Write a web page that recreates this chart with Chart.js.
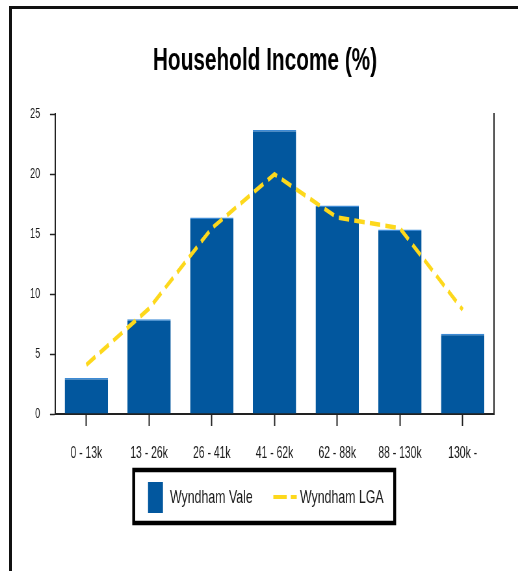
<!DOCTYPE html>
<html>
<head>
<meta charset="utf-8">
<script src="https://cdn.jsdelivr.net/npm/chart.js@4.4.1/dist/chart.umd.min.js"></script>
<style>
  html, body { margin: 0; padding: 0; background: #fff; overflow: hidden; }
  #frame { position: absolute; left: 9px; top: 6px; width: 520px; height: 580px;
           border-left: 3px solid #111; border-top: 3px solid #111; }
  /* the source picture is squashed horizontally, so draw wide and scale down */
  #wrap { position: absolute; left: 0; top: 0; width: 797px; height: 571px;
          transform: scaleX(0.65); transform-origin: 0 0; }
</style>
</head>
<body>
<div id="frame"></div>
<div id="wrap">
  <canvas id="chart" width="797" height="571" style="width:797px;height:571px"></canvas>
</div>
<script>
const categories = ['0 - 13k', '13 - 26k', '26 - 41k', '41 - 62k', '62 - 88k', '88 - 130k', '130k -'];
const wyndhamVale = [3.0, 7.9, 16.4, 23.7, 17.4, 15.4, 6.7];
const wyndhamLga = [4.1, 8.8, 15.5, 20.0, 16.4, 15.5, 8.7];
const yTicks = [0, 5, 10, 15, 20, 25];

const FONT = "'Liberation Sans', Arial, sans-serif";
const BLUE = '#02579e';
const YELLOW = '#fdd81c';

Chart.defaults.font.family = FONT;
Chart.defaults.color = '#1a1a1a';

// legend drawn as a boxed strip under the axis
const boxLegend = {
  id: 'boxLegend',
  afterDraw(chart) {
    const ctx = chart.ctx;
    const bars = chart.data.datasets[0];
    const line = chart.data.datasets[1];
    ctx.save();
    ctx.lineWidth = 4.5;
    ctx.strokeStyle = '#000';
    ctx.strokeRect(205.7, 470, 401.5, 53);

    ctx.fillStyle = bars.backgroundColor;
    ctx.fillRect(227.7, 482, 23, 31);

    ctx.font = '19px ' + FONT;
    ctx.fillStyle = '#1a1a1a';
    ctx.textBaseline = 'middle';
    ctx.fillText(bars.label, 261.5, 498);

    ctx.strokeStyle = line.borderColor;
    ctx.lineWidth = 4;
    ctx.setLineDash([20.6, 6.2]);
    ctx.beginPath();
    ctx.moveTo(420.5, 497);
    ctx.lineTo(456.5, 497);
    ctx.stroke();
    ctx.setLineDash([]);

    ctx.fillText(line.label, 461.5, 498);
    ctx.restore();
  }
};

const ctx = document.getElementById('chart').getContext('2d');
new Chart(ctx, {
  type: 'bar',
  data: {
    labels: categories,
    datasets: [
      {
        label: 'Wyndham Vale',
        data: wyndhamVale,
        backgroundColor: BLUE,
        borderColor: '#3d8ad4',
        borderWidth: { top: 1.5, left: 0, right: 0, bottom: 0 },
        borderSkipped: 'bottom',
        categoryPercentage: 0.69,
        barPercentage: 1.0,
        order: 2,
      },
      {
        type: 'line',
        label: 'Wyndham LGA',
        data: wyndhamLga,
        borderColor: YELLOW,
        borderWidth: 4.5,
        borderDash: [16, 8],
        pointRadius: 0,
        tension: 0,
        fill: false,
        order: 1,
      },
    ],
  },
  options: {
    responsive: false,
    animation: false,
    layout: { padding: { left: 18.4, right: 0, top: 0, bottom: 0 } },
    plugins: {
      legend: { display: false },
      tooltip: { enabled: false },
      title: {
        display: true,
        text: 'Household Income (%)',
        color: '#000',
        font: { size: 32, weight: 'bold', family: FONT },
        padding: { top: 42, bottom: 34 },
      },
    },
    scales: {
      x: {
        offset: true,
        grid: { drawOnChartArea: false, offset: false, tickLength: 12, color: '#222', tickWidth: 2 },
        border: { color: '#222', width: 2 },
        ticks: { font: { size: 16 }, padding: 18, maxRotation: 0, autoSkip: false, color: '#1a1a1a' },
        afterFit: (scale) => { scale.height = 157; },
      },
      y: {
        min: 0,
        max: 25,
        afterBuildTicks: (scale) => { scale.ticks = yTicks.map((v) => ({ value: v })); },
        grid: { drawOnChartArea: false, tickLength: 7.7, color: '#222', tickWidth: 1.5 },
        border: { color: '#222', width: 2 },
        ticks: { font: { size: 14 }, padding: 15, color: '#1a1a1a' },
        afterFit: (scale) => { scale.width = 66.2; },
      },
      yR: {
        position: 'right',
        min: 0,
        max: 25,
        grid: { drawOnChartArea: false, drawTicks: false },
        border: { color: '#222', width: 2 },
        ticks: { display: false },
        afterFit: (scale) => { scale.width = 37; },
      },
    },
  },
  plugins: [boxLegend],
});
</script>
</body>
</html>
